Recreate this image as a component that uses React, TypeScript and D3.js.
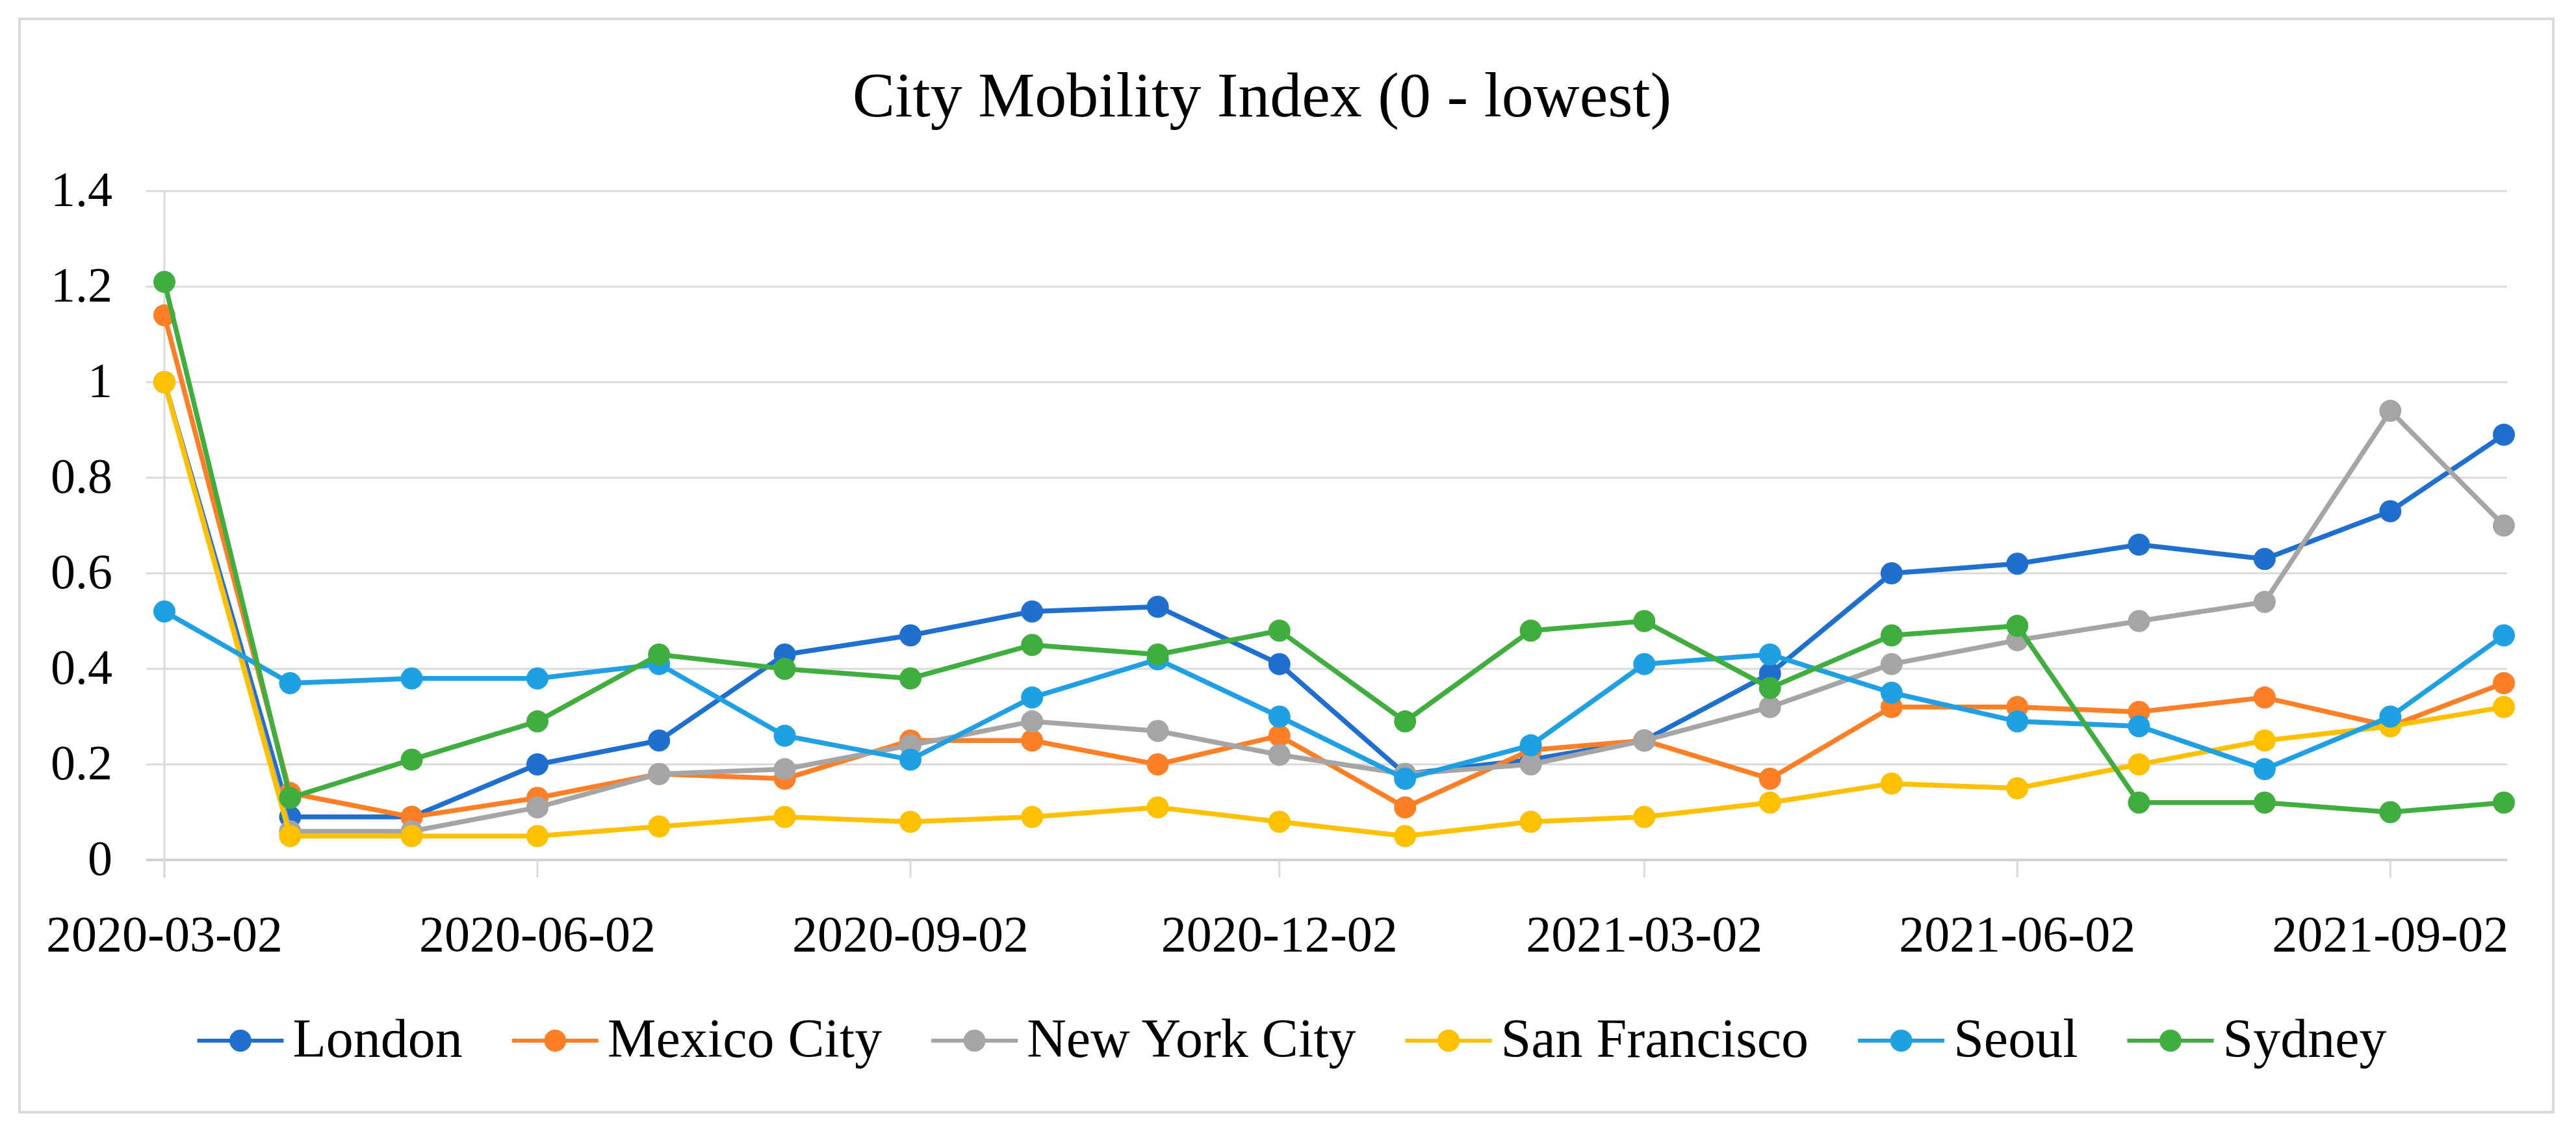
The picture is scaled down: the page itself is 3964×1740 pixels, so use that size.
import React, { useEffect, useRef } from "react";
import * as d3 from "d3";

const dates = [
  "2020-03-02", "2020-04-02", "2020-05-02", "2020-06-02", "2020-07-02",
  "2020-08-02", "2020-09-02", "2020-10-02", "2020-11-02", "2020-12-02",
  "2021-01-02", "2021-02-02", "2021-03-02", "2021-04-02", "2021-05-02",
  "2021-06-02", "2021-07-02", "2021-08-02", "2021-09-02", "2021-09-30",
];

const tickDates = [
  "2020-03-02", "2020-06-02", "2020-09-02", "2020-12-02",
  "2021-03-02", "2021-06-02", "2021-09-02",
];

const yTicks = [0, 0.2, 0.4, 0.6, 0.8, 1, 1.2, 1.4];

const seriesNames = ["London", "Mexico City", "New York City", "San Francisco", "Seoul", "Sydney"];
const seriesColors = ["#1F6FCF", "#FF7F27", "#A5A5A5", "#FFC000", "#1FA0E3", "#40AE3F"];

const london = [1.0, 0.09, 0.09, 0.2, 0.25, 0.43, 0.47, 0.52, 0.53, 0.41, 0.18, 0.21, 0.25, 0.39, 0.6, 0.62, 0.66, 0.63, 0.73, 0.89];
const mexicoCity = [1.14, 0.14, 0.09, 0.13, 0.18, 0.17, 0.25, 0.25, 0.2, 0.26, 0.11, 0.23, 0.25, 0.17, 0.32, 0.32, 0.31, 0.34, 0.28, 0.37];
const newYorkCity = [1.0, 0.06, 0.06, 0.11, 0.18, 0.19, 0.24, 0.29, 0.27, 0.22, 0.18, 0.2, 0.25, 0.32, 0.41, 0.46, 0.5, 0.54, 0.94, 0.7];
const sanFrancisco = [1.0, 0.05, 0.05, 0.05, 0.07, 0.09, 0.08, 0.09, 0.11, 0.08, 0.05, 0.08, 0.09, 0.12, 0.16, 0.15, 0.2, 0.25, 0.28, 0.32];
const seoul = [0.52, 0.37, 0.38, 0.38, 0.41, 0.26, 0.21, 0.34, 0.42, 0.3, 0.17, 0.24, 0.41, 0.43, 0.35, 0.29, 0.28, 0.19, 0.3, 0.47];
const sydney = [1.21, 0.13, 0.21, 0.29, 0.43, 0.4, 0.38, 0.45, 0.43, 0.48, 0.29, 0.48, 0.5, 0.36, 0.47, 0.49, 0.12, 0.12, 0.1, 0.12];

const seriesValues = [london, mexicoCity, newYorkCity, sanFrancisco, seoul, sydney];

const title = "City Mobility Index (0 - lowest)";

const W = 3964;
const H = 1740;
const FONT = "'Liberation Serif', 'Times New Roman', serif";

export default function App() {
  const ref = useRef<SVGSVGElement>(null);

  useEffect(() => {
    const svg = d3.select(ref.current);
    svg.selectAll("*").remove();

    const parse = d3.utcParse("%Y-%m-%d");
    const xDates = dates.map((d) => parse(d) as Date);

    const plotLeft = 225;
    const plotRight = 3858;
    const x = d3.scaleUtc().domain([xDates[0], xDates[xDates.length - 1]]).range([253, 3853]);
    const y = d3.scaleLinear().domain([0, 1.4]).range([1323, 294]);

    svg.append("rect").attr("x", 0).attr("y", 0).attr("width", W).attr("height", H).attr("fill", "#fff");
    svg.append("rect")
      .attr("x", 30).attr("y", 29).attr("width", 3899).attr("height", 1682)
      .attr("fill", "#fff").attr("stroke", "#d9d9d9").attr("stroke-width", 4);

    // title
    svg.append("text")
      .attr("x", 1942).attr("y", 179)
      .attr("text-anchor", "middle")
      .attr("font-family", FONT).attr("font-size", 98)
      .attr("fill", "#000")
      .text(title);

    // gridlines
    const g = svg.append("g");
    g.selectAll("line.grid").data(yTicks).join("line")
      .attr("x1", plotLeft).attr("x2", plotRight)
      .attr("y1", (d) => y(d)).attr("y2", (d) => y(d))
      .attr("stroke", (d) => (d === 0 ? "#d0d0d0" : "#d9d9d9"))
      .attr("stroke-width", (d) => (d === 0 ? 4 : 3));

    // y labels
    g.selectAll("text.ylab").data(yTicks).join("text")
      .attr("x", 173).attr("y", (d) => y(d)).attr("dy", "0.3em")
      .attr("text-anchor", "end")
      .attr("font-family", FONT).attr("font-size", 76).attr("fill", "#000")
      .text((d) => d3.format("~g")(d));

    // vertical axis line at first date
    g.append("line")
      .attr("x1", x(xDates[0])).attr("x2", x(xDates[0]))
      .attr("y1", y(1.4)).attr("y2", y(0) + 27)
      .attr("stroke", "#d9d9d9").attr("stroke-width", 3);

    // x ticks and labels
    const tDates = tickDates.map((d) => parse(d) as Date);
    g.selectAll("line.xt").data(tDates).join("line")
      .attr("x1", (d) => x(d)).attr("x2", (d) => x(d))
      .attr("y1", y(0)).attr("y2", y(0) + 27)
      .attr("stroke", "#d9d9d9").attr("stroke-width", 3);
    g.selectAll("text.xl").data(tickDates).join("text")
      .attr("x", (d) => x(parse(d) as Date)).attr("y", 1463)
      .attr("text-anchor", "middle")
      .attr("font-family", FONT).attr("font-size", 78).attr("fill", "#000")
      .text((d) => d);

    // series
    const line = d3.line<number>().x((_, i) => x(xDates[i])).y((d) => y(d));
    seriesValues.forEach((vals, si) => {
      const sg = svg.append("g");
      sg.append("path").attr("d", line(vals) as string)
        .attr("fill", "none").attr("stroke", seriesColors[si])
        .attr("stroke-width", 7.5).attr("stroke-linejoin", "round");
      sg.selectAll("circle").data(vals).join("circle")
        .attr("cx", (_, i) => x(xDates[i])).attr("cy", (d) => y(d))
        .attr("r", 17).attr("fill", seriesColors[si]);
    });

    // legend
    const legY = 1601;
    const lineLen = 133;
    const gapText = 14;
    const gapEntry = 76;
    const lg = svg.append("g");
    const entries = seriesNames.map((name, i) => {
      const eg = lg.append("g");
      eg.append("line").attr("x1", 0).attr("x2", lineLen).attr("y1", legY).attr("y2", legY)
        .attr("stroke", seriesColors[i]).attr("stroke-width", 6);
      eg.append("circle").attr("cx", lineLen / 2).attr("cy", legY).attr("r", 17).attr("fill", seriesColors[i]);
      const t = eg.append("text").attr("x", lineLen + gapText).attr("y", legY).attr("dy", "0.3em")
        .attr("font-family", FONT).attr("font-size", 84).attr("fill", "#000").text(name);
      const w = (t.node() as SVGTextElement).getComputedTextLength();
      return { eg, width: lineLen + gapText + w };
    });
    const total = d3.sum(entries, (e) => e.width) + gapEntry * (entries.length - 1);
    let cx = 1988 - total / 2;
    entries.forEach((e) => {
      e.eg.attr("transform", `translate(${cx},0)`);
      cx += e.width + gapEntry;
    });
  }, []);

  return (
    <svg ref={ref} width={W} height={H} style={{ position: "absolute", left: 0, top: 0, display: "block" }} />
  );
}
